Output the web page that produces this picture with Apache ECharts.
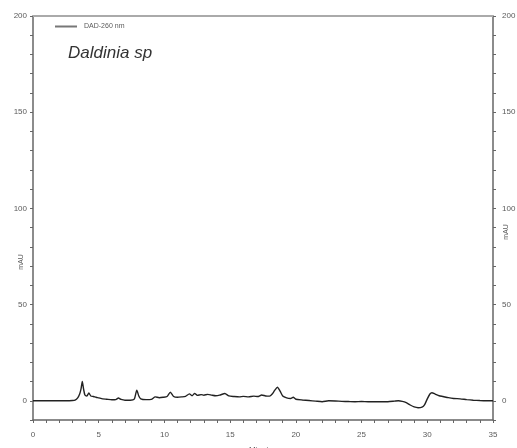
<!DOCTYPE html>
<html>
<head>
<meta charset="utf-8">
<script src="https://cdn.jsdelivr.net/npm/echarts@6/dist/echarts.min.js"></script>
<style>
  html, body { margin: 0; padding: 0; background: #fff; overflow: hidden; }
  #chart { width: 517px; height: 448px; }
</style>
</head>
<body>
<div id="chart"></div>
<script>
// Retention time (min) and DAD 260 nm absorbance (mAU)
const timeMin = [
  0, 0.5, 1, 1.5, 2, 2.5, 3, 3.2, 3.4, 3.55, 3.65, 3.75, 3.85, 3.95, 4.1, 4.25, 4.4, 4.6, 4.8,
  5.0, 5.3, 5.6, 6.0, 6.3, 6.5, 6.7, 7.0, 7.4, 7.7, 7.9, 8.05, 8.2, 8.6, 9.0, 9.3, 9.6, 9.9,
  10.2, 10.45, 10.7, 11.0, 11.3, 11.6, 11.9, 12.1, 12.3, 12.5, 12.8, 13.0, 13.3, 13.6, 13.9,
  14.2, 14.6, 14.9, 15.3, 15.7, 16.0, 16.4, 16.8, 17.1, 17.4, 17.7, 18.0, 18.2, 18.4, 18.6,
  18.8, 19.0, 19.3, 19.6, 19.8, 20.0, 20.5, 21.0, 21.5, 22.0, 22.5, 23.0, 23.5, 24.0, 24.5,
  25.0, 25.5, 26.0, 26.5, 27.0, 27.5, 27.8, 28.1, 28.4, 28.7, 29.0, 29.3, 29.6, 29.8, 30.0,
  30.2, 30.35, 30.6, 30.9, 31.2, 31.6, 32.0, 32.5, 33.0, 33.5, 34.0, 34.5, 35.0
];
const absorbance = [
  0, 0, 0, 0, 0, 0, 0.1, 0.3, 1.5, 3.5, 6, 10, 6, 3, 2.5, 4, 2.5, 2.2, 1.8,
  1.5, 1.0, 0.8, 0.5, 0.6, 1.4, 0.7, 0.3, 0.3, 0.8, 5.5, 2.5, 1.0, 0.6, 0.7, 2.0, 1.6, 1.8,
  2.2, 4.5, 2.2, 1.8, 2.0, 2.3, 3.6, 2.6, 3.8, 2.8, 3.2, 2.9, 3.3, 2.9, 2.6,
  2.9, 3.8, 2.5, 2.2, 2.0, 2.3, 2.0, 2.4, 2.2, 3.0, 2.5, 2.4, 3.5, 5.5, 7.0,
  5.0, 2.5, 1.5, 1.2, 1.8, 0.8, 0.4, 0.1, -0.2, -0.5, 0, -0.1, -0.3, -0.4, -0.5,
  -0.4, -0.5, -0.5, -0.5, -0.5, -0.2, 0, -0.3, -1.0, -2.2, -3.2, -3.6, -3.3, -2.0, 1.0,
  3.5, 4.2, 3.5, 2.6, 2.2, 1.6, 1.2, 1.0, 0.6, 0.3, 0.1, 0, 0
];
const yLabelValues = [0, 50, 100, 150, 200];
const yTickValues = [-10, 0, 10, 20, 30, 40, 50, 60, 70, 80, 90, 100, 110, 120, 130, 140, 150, 160, 170, 180, 190, 200];
const seriesName = 'DAD-260 nm';
const sampleName = 'Daldinia sp';

const font = 'Liberation Sans, Arial, sans-serif';
const axisGray = '#666';
const textGray = '#5a5a5a';

const chart = echarts.init(document.getElementById('chart'), null, { renderer: 'canvas', width: 517, height: 448 });

function yAxisDef(pos) {
  return {
    type: 'value', position: pos, min: -10, max: 200,
    axisLine: { show: true, onZero: false, lineStyle: { color: axisGray, width: 1.5 } },
    axisTick: { show: true, customValues: yTickValues, length: 3, lineStyle: { color: axisGray } },
    axisLabel: { show: true, customValues: yLabelValues, fontSize: 8, color: textGray, fontFamily: font, margin: pos === 'left' ? 6 : 9 },
    splitLine: { show: false }
  };
}

chart.setOption({
  backgroundColor: '#fff',
  animation: false,
  title: {
    text: sampleName, left: 63, top: 40,
    textStyle: { fontStyle: 'italic', fontWeight: 'normal', fontSize: 17, color: '#333', fontFamily: font }
  },
  legend: {
    left: 50, top: 18, itemWidth: 22, itemHeight: 2, itemGap: 4,
    icon: 'rect',
    itemStyle: { color: '#777' },
    textStyle: { fontSize: 7, color: textGray, fontFamily: font, padding: [0, 0, 0, 2] },
    data: [seriesName]
  },
  grid: { left: 33, right: 24, top: 16, bottom: 28, containLabel: false, outerBoundsMode: 'none' },
  xAxis: [
    {
      type: 'value', min: 0, max: 35, interval: 5, position: 'bottom',
      name: 'Minutes', nameLocation: 'middle', nameGap: 26,
      nameTextStyle: { fontSize: 8, color: textGray, fontFamily: font },
      axisLine: { show: true, onZero: false, lineStyle: { color: axisGray, width: 1.5 } },
      axisTick: { show: true, length: 3, inside: false, lineStyle: { color: axisGray } },
      minorTick: { show: true, splitNumber: 5, length: 3, lineStyle: { color: axisGray } },
      axisLabel: { fontSize: 8, color: textGray, fontFamily: font, margin: 11 },
      splitLine: { show: false }
    },
    {
      type: 'value', min: 0, max: 35, position: 'top',
      axisLine: { show: true, onZero: false, lineStyle: { color: '#aaa', width: 2 } },
      axisTick: { show: false }, axisLabel: { show: false }, splitLine: { show: false }
    }
  ],
  yAxis: [yAxisDef('left'), yAxisDef('right')],
  graphic: [
    { type: 'text', x: 21, y: 262, rotation: Math.PI / 2,
      style: { text: 'mAU', fontSize: 7, fill: textGray, fontFamily: font, align: 'center', verticalAlign: 'middle' } },
    { type: 'text', x: 506, y: 232, rotation: Math.PI / 2,
      style: { text: 'mAU', fontSize: 7, fill: textGray, fontFamily: font, align: 'center', verticalAlign: 'middle' } }
  ],
  series: [{
    name: seriesName, type: 'line', xAxisIndex: 0, yAxisIndex: 0,
    data: timeMin.map((t, i) => [t, absorbance[i]]),
    showSymbol: false, symbol: 'none', smooth: 0.2,
    lineStyle: { color: '#222', width: 1.4 },
    itemStyle: { color: '#555' }
  }]
});
</script>
</body>
</html>
